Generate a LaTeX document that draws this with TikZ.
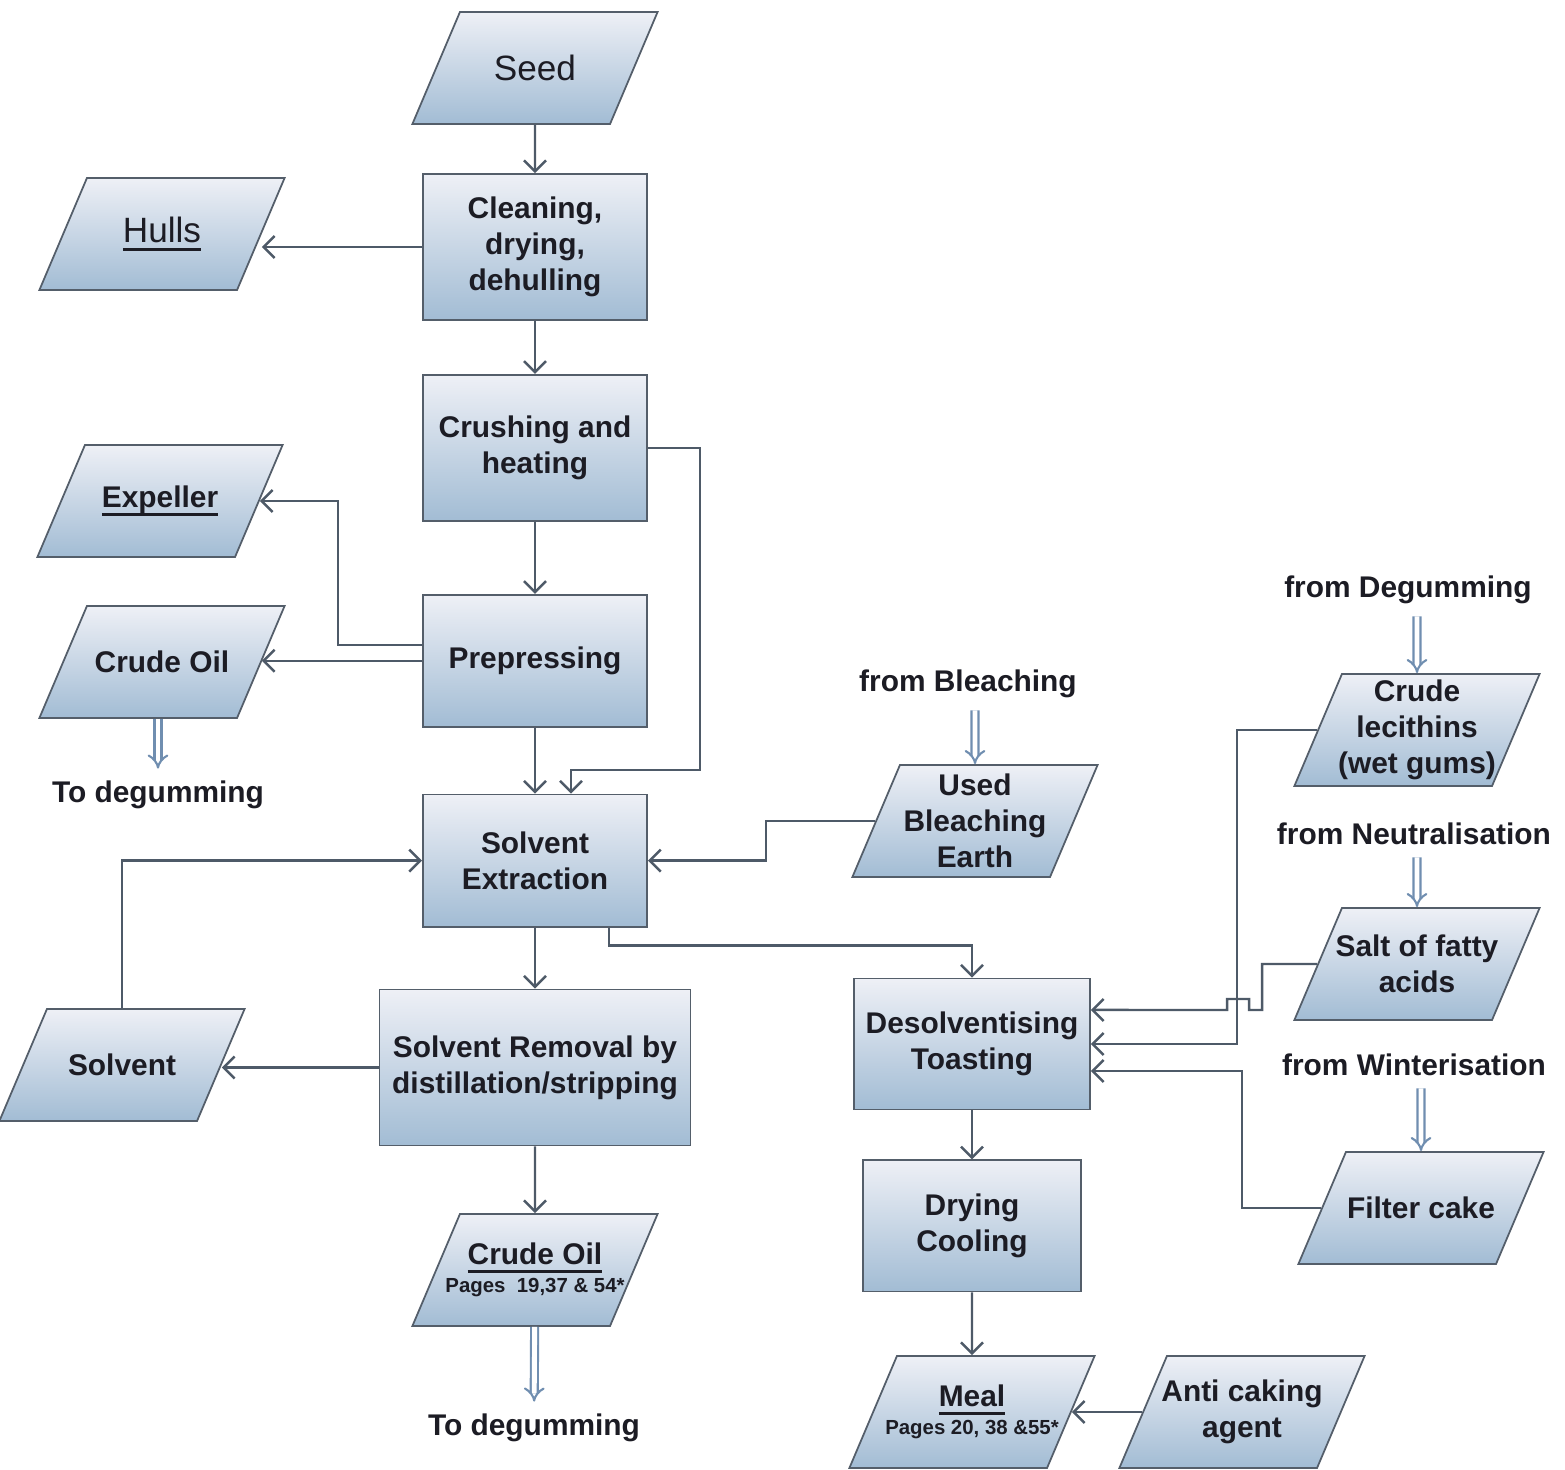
\documentclass[tikz,border=0pt]{standalone}
\usepackage{fontspec}
\setmainfont{Liberation Sans}
\usetikzlibrary{arrows.meta,positioning,shapes.geometric}

\definecolor{shadetop}{RGB}{238,240,246}
\definecolor{shadebot}{RGB}{162,188,212}
\definecolor{edgegray}{RGB}{84,94,106}
\definecolor{linegray}{RGB}{78,90,104}
\definecolor{pipeblue}{RGB}{112,142,176}
\definecolor{inkdark}{RGB}{28,28,36}

\newcommand{\linedunder}[1]{\leavevmode\setbox0\hbox{#1}\rlap{\rule[-2.4pt]{\wd0}{0.8pt}}\box0}
\newcommand{\pagesnote}[1]{\makebox[0pt]{\fontsize{5.8}{7}\selectfont #1}}

\begin{document}
\begin{tikzpicture}[
    x=0.01cm, y=-0.01cm,
    font=\fontsize{8.5}{10.2}\selectfont\bfseries,
    stepbox/.style={rectangle, draw=edgegray, line width=0.5pt, top color=shadetop, bottom color=shadebot, minimum width=2.24cm, minimum height=1.46cm, align=center, text=inkdark},
    para/.style={trapezium, trapezium left angle=67, trapezium right angle=113, draw=edgegray, line width=0.5pt, top color=shadetop, bottom color=shadebot, inner xsep=-0.1cm, inner ysep=0pt, text=inkdark,
        execute at begin node={\begin{minipage}[c][1.12cm][c]{1.7cm}\centering},
        execute at end node={\end{minipage}}},
    note/.style={text=inkdark, align=center},
    arrow/.style={-{Straight Barb[length=1.1mm,width=2.2mm]}, draw=linegray, line width=0.7pt},
    pipe/.style={-Implies, draw=pipeblue, double=white, double distance=1.4pt, line width=0.6pt}
]
    \useasboundingbox (0,0) rectangle (1565,1470);

    % Main column
    \node[stepbox] (clean) at (535,247) {Cleaning,\\drying,\\dehulling};
    \node[stepbox, below=0.53cm of clean] (crush) {Crushing and\\heating};
    \node[stepbox, below=0.72cm of crush, minimum height=1.32cm] (press) {Prepressing};
    \node[stepbox, below=0.66cm of press, minimum height=1.32cm] (extract) {Solvent\\Extraction};
    \node[stepbox, below=0.61cm of extract, minimum width=3.11cm, minimum height=1.56cm] (remove) {Solvent Removal by\\distillation/stripping};

    % Meal line
    \node[stepbox, minimum width=2.32cm, minimum height=1.31cm] (desolv) at (972,1044) {Desolventising\\Toasting};
    \node[stepbox, below=0.49cm of desolv, minimum width=2.18cm, minimum height=1.31cm] (dry) {Drying\\Cooling};

    % Inputs and products
    \node[para, font=\fontsize{10}{12}\selectfont] (seed) at (535,68) {Seed};
    \node[para, font=\fontsize{10}{12}\selectfont] (hulls) at (162,234) {\linedunder{Hulls}};
    \node[para] (expel) at (160,501) {\linedunder{Expeller}};
    \node[para] (oil1) at (162,662) {Crude Oil};
    \node[para] (solv) at (122,1065) {Solvent};
    \node[para] (oil2) at (535,1270) {\linedunder{Crude Oil}\\[-2.2pt]\pagesnote{Pages\ \ 19,37 \& 54*}};
    \node[para] (ubearth) at (975,821) {Used\\Bleaching\\Earth};
    \node[para] (lecith) at (1417,730) {Crude\\lecithins\\(wet gums)};
    \node[para] (salt) at (1417,964) {Salt of fatty\\acids};
    \node[para] (filter) at (1421,1208) {Filter cake};
    \node[para] (meal) at (972,1412) {\linedunder{Meal}\\[-2.2pt]\pagesnote{Pages 20, 38 \&55*}};
    \node[para] (anti) at (1242,1412) {Anti caking\\agent};

    % Outside streams
    \node[note] (degum1) at (158,795) {To degumming};
    \node[note] (degum2) at (534,1428) {To degumming};
    \node[note] (frombleach) at (968,684) {from Bleaching};
    \node[note] (fromdegum) at (1408,590) {from Degumming};
    \node[note] (fromneut) at (1414,834) {from Neutralisation};
    \node[note] (fromwinter) at (1414,1065) {from Winterisation};

    % Arrows
    \draw[arrow] (seed) -- (clean);
    \draw[arrow] (clean.west) -- (hulls.east |- clean.west);
    \draw[arrow] (clean) -- (crush);
    \draw[arrow] (crush) -- (press);
    \draw[arrow] ([yshift=0.16cm]press.west) -- ++(-84,0) |- (expel.east);
    \draw[arrow] (press.west) -- (oil1.east |- press.west);
    \draw[pipe] (oil1.south -| degum1) -- (degum1);
    \draw[arrow] (press) -- (extract);
    \draw[arrow] (crush.east) -- ++(52,0) -- ++(0,322) -| ([xshift=0.36cm]extract.north);
    \draw[pipe] (ubearth |- frombleach.south) -- (ubearth);
    \draw[arrow] (ubearth.west) -- ++(-109,0) |- (extract.east);
    \draw[arrow] (solv.north -| solv) |- (extract.west);
    \draw[arrow] (extract) -- (remove);
    \draw[arrow] ([xshift=0.74cm]extract.south) -- ++(0,18) -| (desolv.north);
    \draw[arrow] (remove.west) -- (solv.east |- remove.west);
    \draw[arrow] (remove) -- (oil2);
    \draw[pipe] (oil2) -- (degum2);
    \draw[arrow] (desolv) -- (dry);
    \draw[arrow] (dry) -- (meal);
    \draw[arrow] (anti) -- (meal);
    \draw[pipe] (lecith |- fromdegum.south) -- (lecith);
    \draw[pipe] (salt |- fromneut.south) -- (salt);
    \draw[pipe] (filter |- fromwinter.south) -- (filter);
    \draw[arrow] (lecith.west) -- ++(-80,0) |- (desolv.east);
    \draw[arrow] (salt.west) -- ++(-55,0) -- ++(0,46) -- ++(-13,0) -- ++(0,-11) -- ++(-22,0) -- ++(0,11) -- ([yshift=0.34cm]desolv.east);
    \draw[arrow] (filter.west) -- ++(-79,0) |- ([yshift=-0.27cm]desolv.east);

\end{tikzpicture}
\end{document}
